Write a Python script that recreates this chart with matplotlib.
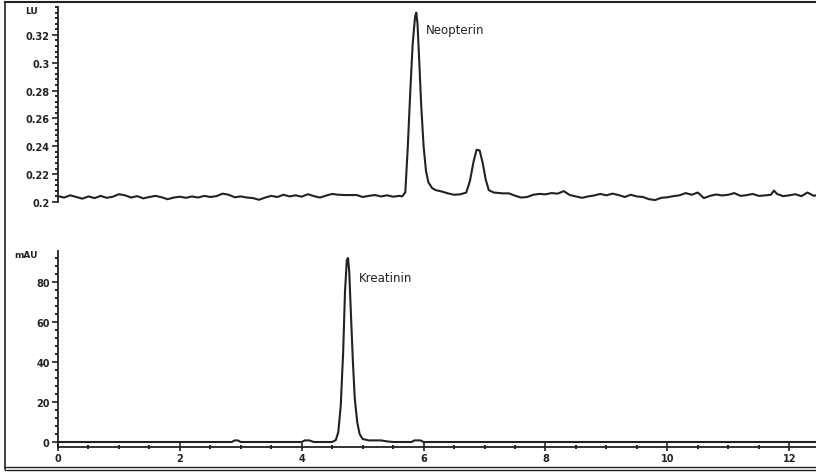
import matplotlib.pyplot as plt
from matplotlib.ticker import MultipleLocator
from matplotlib.lines import Line2D

# Fluorescence trace (LU) - Neopterin
t_fl = [0.0, 0.1, 0.2, 0.3, 0.4, 0.5, 0.6, 0.7, 0.8, 0.9,
        1.0, 1.1, 1.2, 1.3, 1.4, 1.5, 1.6, 1.7, 1.8, 1.9,
        2.0, 2.1, 2.2, 2.3, 2.4, 2.5, 2.6, 2.7, 2.8, 2.9,
        3.0, 3.1, 3.2, 3.3, 3.4, 3.5, 3.6, 3.7, 3.8, 3.9,
        4.0, 4.1, 4.2, 4.3, 4.4, 4.5, 4.6, 4.7, 4.8, 4.9,
        5.0, 5.1, 5.2, 5.3, 5.4, 5.5, 5.6, 5.65, 5.70, 5.74,
        5.78, 5.82, 5.86, 5.88, 5.90, 5.93, 5.96, 6.00, 6.04, 6.08,
        6.14, 6.2, 6.3, 6.4, 6.5, 6.6, 6.7, 6.76, 6.82, 6.87,
        6.92, 6.97, 7.02, 7.07, 7.15, 7.3, 7.4, 7.5, 7.6, 7.7,
        7.8, 7.9, 8.0, 8.1, 8.2, 8.3, 8.4, 8.5, 8.6, 8.7,
        8.8, 8.9, 9.0, 9.1, 9.2, 9.3, 9.4, 9.5, 9.6, 9.7,
        9.8, 9.9, 10.0, 10.1, 10.2, 10.3, 10.4, 10.5, 10.6, 10.7,
        10.8, 10.9, 11.0, 11.1, 11.2, 11.3, 11.4, 11.5, 11.6, 11.7,
        11.75, 11.8, 11.9, 12.0, 12.1, 12.2, 12.3, 12.4, 12.5]
lu = [0.2042, 0.2032, 0.2048, 0.2036, 0.2024, 0.2040, 0.2028, 0.2044, 0.2030, 0.2038,
      0.2056, 0.2048, 0.2032, 0.2042, 0.2026, 0.2036, 0.2044, 0.2034, 0.2020, 0.2032,
      0.2038, 0.2030, 0.2040, 0.2032, 0.2044, 0.2036, 0.2042, 0.2060, 0.2052, 0.2034,
      0.2040, 0.2032, 0.2028, 0.2016, 0.2032, 0.2044, 0.2036, 0.2052, 0.2040, 0.2048,
      0.2038, 0.2056, 0.2042, 0.2032, 0.2046, 0.2058, 0.2052, 0.2050, 0.2050, 0.2050,
      0.2036, 0.2044, 0.2050, 0.2040, 0.2048, 0.2038, 0.2044, 0.2040, 0.2070, 0.2390,
      0.2780, 0.3130, 0.3330, 0.3360, 0.3280, 0.3000, 0.2700, 0.2400, 0.2220, 0.2140,
      0.2100, 0.2085, 0.2075, 0.2062, 0.2052, 0.2055, 0.2068, 0.2150, 0.2290, 0.2375,
      0.2370, 0.2280, 0.2160, 0.2085, 0.2068, 0.2062, 0.2062, 0.2045, 0.2032, 0.2036,
      0.2052, 0.2058, 0.2055, 0.2064, 0.2060, 0.2078, 0.2050, 0.2040, 0.2030, 0.2040,
      0.2047, 0.2058, 0.2048, 0.2060, 0.2050, 0.2036, 0.2052, 0.2040, 0.2036, 0.2020,
      0.2014, 0.2030, 0.2034, 0.2042, 0.2048, 0.2064, 0.2052, 0.2068, 0.2028, 0.2044,
      0.2054, 0.2047, 0.2052, 0.2064, 0.2044, 0.2049, 0.2058, 0.2044, 0.2047, 0.2052,
      0.2082, 0.2058, 0.2042, 0.2048, 0.2056, 0.2042, 0.2068, 0.2045, 0.2050]

# UV trace (mAU) - Kreatinin
t_uv = [0.0, 2.85, 2.9, 2.95, 3.0, 4.0, 4.05, 4.12, 4.2, 4.5,
        4.56, 4.6, 4.64, 4.68, 4.71, 4.74, 4.76, 4.78, 4.81, 4.84,
        4.87, 4.91, 4.95, 5.0, 5.1, 5.3, 5.4, 5.5, 5.8, 5.85,
        5.95, 6.0, 12.5]
mau = [0.0, 0.0, 0.8, 0.8, 0.0, 0.0, 0.8, 0.8, 0.0, 0.0,
       1.0, 5.0, 18.0, 45.0, 75.0, 91.0, 92.0, 85.0, 62.0, 40.0,
       22.0, 10.0, 4.0, 1.5, 0.8, 0.8, 0.3, 0.0, 0.0, 0.8,
       0.8, 0.0, 0.0]

top_ticks = [0.2, 0.22, 0.24, 0.26, 0.28, 0.3, 0.32]
top_labels = ["0.2", "0.22", "0.24", "0.26", "0.28", "0.3", "0.32"]
bot_ticks = [0, 20, 40, 60, 80]
x_ticks = [0, 2, 4, 6, 8, 10, 12]

ink = "#222222"
fig = plt.figure(figsize=(8.16, 4.77), dpi=100)

# upper panel
ax1 = fig.add_axes([58 / 816, 1 - 203 / 477, 1 - 58 / 816, (203 - 8) / 477])
ax1.plot(t_fl, lu, color=ink, lw=1.5)
ax1.set_xlim(0, 12.44)
ax1.set_ylim(0.2, 0.34)
ax1.set_yticks(top_ticks)
ax1.set_yticklabels(top_labels)
ax1.yaxis.set_minor_locator(MultipleLocator(0.004))
ax1.set_xticks([])
for s in ["top", "right", "bottom"]:
    ax1.spines[s].set_visible(False)
ax1.text(6.03, 0.3236, "Neopterin", fontsize=8.5, va="center", color=ink)
fig.text(25 / 816, 1 - 11 / 477, "LU", fontsize=6.5, fontweight="bold",
         ha="left", va="center", color=ink)

# lower panel
ax2 = fig.add_axes([58 / 816, 1 - 448 / 477, 1 - 58 / 816, (448 - 252) / 477])
ax2.plot(t_uv, mau, color=ink, lw=1.5)
ax2.set_xlim(0, 12.44)
ax2.set_ylim(-2.5, 95.5)
ax2.set_yticks(bot_ticks)
ax2.yaxis.set_minor_locator(MultipleLocator(4))
ax2.set_xticks(x_ticks)
ax2.xaxis.set_minor_locator(MultipleLocator(0.5))
for s in ["top", "right"]:
    ax2.spines[s].set_visible(False)
ax2.text(4.93, 82.5, "Kreatinin", fontsize=8.5, va="center", color=ink)
fig.text(14 / 816, 1 - 256 / 477, "mAU", fontsize=6.5, fontweight="bold",
         ha="left", va="center", color=ink)

for ax in (ax1, ax2):
    ax.patch.set_alpha(0)
    for s in ax.spines.values():
        s.set_linewidth(1.3)
        s.set_color(ink)
    ax.tick_params(axis="y", which="major", direction="out", length=4,
                   width=1.2, labelsize=7, pad=2, colors=ink)
    ax.tick_params(axis="y", which="minor", direction="out", length=2, width=1.2)
    for lab in ax.get_yticklabels():
        lab.set_fontweight("bold")
ax2.tick_params(axis="x", which="major", direction="inout", length=6,
                width=1.2, labelsize=7, pad=1, colors=ink)
ax2.tick_params(axis="x", which="minor", direction="inout", length=3, width=1.2)
for lab in ax2.get_xticklabels():
    lab.set_fontweight("bold")

# frame around the whole picture
fig.add_artist(Line2D([5 / 816, 1], [1 - 3 / 477, 1 - 3 / 477], color=ink, lw=1.5))
fig.add_artist(Line2D([5 / 816, 5 / 816], [1 - 3 / 477, 1 - 470 / 477], color=ink, lw=1.2))
fig.add_artist(Line2D([5 / 816, 1], [1 - 468 / 477, 1 - 468 / 477], color=ink, lw=1.0))
fig.add_artist(Line2D([5 / 816, 1], [1 - 471 / 477, 1 - 471 / 477], color=ink, lw=1.0))

fig.savefig("out.png", dpi=100)
